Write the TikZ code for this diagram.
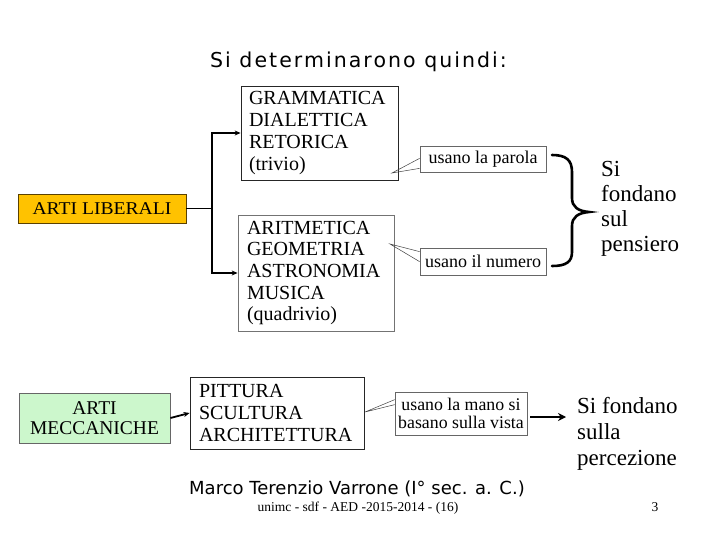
\documentclass[tikz,border=0pt]{standalone}
\usepackage{fontspec}
\usepackage{graphicx}
\setmainfont{Liberation Serif}
\newfontfamily\dejavu{DejaVu Sans}
\newfontfamily\dejavuls[LetterSpace=10]{DejaVu Sans}
\usetikzlibrary{arrows.meta,calc,shadows}
\definecolor{gold}{RGB}{255,194,0}
\definecolor{goldedge}{RGB}{90,65,0}
\definecolor{mint}{RGB}{204,247,204}
\begin{document}
\begin{tikzpicture}[x=1pt,y=-1pt,
  box/.style={draw=black!85, line width=0.8pt, fill=white, inner ysep=0pt, align=left,
    drop shadow={shadow xshift=1.2pt, shadow yshift=-1.2pt, fill=black!30, opacity=1}},
  big/.style={font=\fontsize{20}{21.7}\selectfont},
  small/.style={font=\fontsize{18}{18}\selectfont},
  note/.style={draw=black!60, line width=0.7pt, fill=white, inner sep=0pt, align=center},
  conn/.style={line width=1.8pt, -{Stealth[length=6pt,width=5pt]}},
  thinline/.style={line width=0.5pt, draw=black!75},
  txt/.style={inner sep=0pt, align=left}
]
\useasboundingbox (0,0) rectangle (720,540);
\fill[white] (0,0) rectangle (720,540);

% title
\node[anchor=base, inner sep=0pt, font=\dejavuls\fontsize{20.5}{22}\selectfont] (title) at (358.5,68) {Si determinarono quindi:};

% liberal arts
\node[draw=goldedge, line width=0.8pt, fill=gold, minimum width=168pt, minimum height=29pt, inner sep=0pt,
  font=\fontsize{18}{19}\selectfont] (AL) at (102,208.5) {\scalebox{1.09}[1]{ARTI LIBERALI}};

\node[box, big, text width=141pt, inner xsep=8pt, minimum height=94pt] (GR) at (319.5,133)
  {GRAMMATICA\\DIALETTICA\\RETORICA\\(trivio)};
\node[box, big, draw=black!55, text width=138pt, inner xsep=9pt, minimum height=116pt] (AR) at (316,273)
  {ARITMETICA\\GEOMETRIA\\ASTRONOMIA\\MUSICA\\(quadrivio)};

\coordinate (J) at (212,208.5);
\draw[line width=1.8pt] (AL.east) -- (J);
\draw[conn] (J) |- (GR.west);
\draw[conn] (J) |- (AR.west);

\node[note, small, minimum width=126pt, minimum height=26pt] (UP) at (483,159) {usano la parola};
\node[note, small, minimum width=126pt, minimum height=27pt] (UN) at (483,261.5) {usano il numero};

\coordinate (c1) at (392,173);
\coordinate (c2) at (390,244);
\draw[thinline] ($(UP.south west)+(0,-14)$) -- (c1) -- ($(UP.south west)+(0,-4)$);
\draw[thinline] ($(UN.north west)+(0,4)$) -- (c2) -- ($(UN.north west)+(0,14)$);

% brace
\draw[line width=2.6pt, line cap=round] (552,155) .. controls (566,155) and (572,160) .. (572,172)
  -- (572,198) .. controls (572,207) and (578,211) .. (589,212)
  .. controls (578,213) and (572,217) .. (572,226)
  -- (572,252) .. controls (572,262) and (566,266) .. (552,266);

\node[txt, anchor=north west, font=\fontsize{23}{25}\selectfont] (S1) at (601,161.5) {Si\\fondano\\sul\\pensiero};

% mechanical arts
\node[draw=black!60, line width=0.8pt, fill=mint, minimum width=151pt, minimum height=50pt, inner sep=0pt,
  align=center, font=\fontsize{19.5}{20.5}\selectfont] (ME) at (94.5,418) {ARTI\\MECCANICHE};
\node[box, big, text width=156pt, inner xsep=9pt, minimum height=72pt] (PI) at (277,413)
  {PITTURA\\SCULTURA\\ARCHITETTURA};
\draw[conn] (ME.east) -- (PI.west);

\node[note, font=\fontsize{17.8}{18}\selectfont, minimum width=132pt, minimum height=43pt] (MA) at (461,413.5)
  {usano la mano si\\basano sulla vista};
\coordinate (c3) at (365,412);
\draw[thinline] ($(MA.north west)+(0,8)$) -- (c3) -- ($(MA.north west)+(0,13)$);

\coordinate (a0) at (530,417);
\coordinate (a1) at (566,417);
\draw[line width=2.6pt, -{Stealth[length=8pt,width=8pt]}] (a0) -- (a1);

\node[txt, anchor=north west, font=\fontsize{23}{26}\selectfont] (S2) at (577,397.5) {Si fondano\\sulla\\percezione};

% footer
\node[anchor=base, inner sep=0pt, font=\dejavu\fontsize{18}{20}\selectfont] (F1) at (357,494) {Marco Terenzio Varrone (I° sec. a. C.)};
\node[anchor=base, inner sep=0pt, font=\fontsize{13.5}{15}\selectfont] (F2) at (358,511) {unimc - sdf - AED -2015-2014 - (16)};
\node[anchor=base, inner sep=0pt, font=\fontsize{13.5}{15}\selectfont] (F3) at (655,511) {3};
\end{tikzpicture}
\end{document}
